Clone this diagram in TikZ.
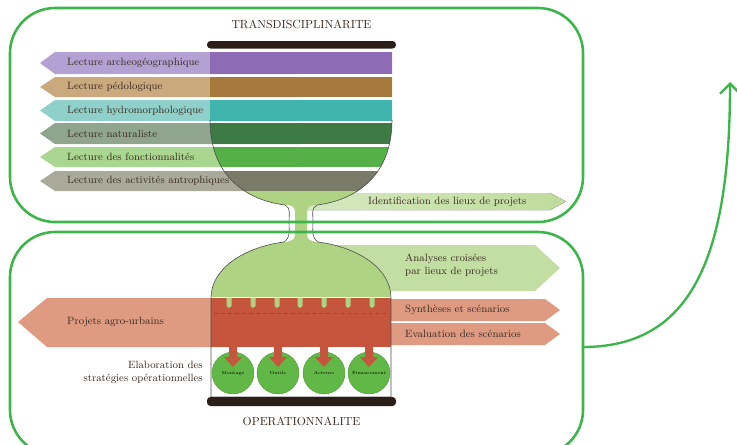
\documentclass[tikz,border=0pt]{standalone}
\usepackage{tikz}
\usetikzlibrary{arrows.meta}

\definecolor{boxgreen}{HTML}{3CB54A}
\definecolor{barbrown}{HTML}{2B1D17}
\definecolor{labeltext}{HTML}{3A2A20}
\definecolor{purpleL}{HTML}{B4A1D3}\definecolor{purpleD}{HTML}{8D6BB5}
\definecolor{brownL}{HTML}{CBA97F}\definecolor{brownD}{HTML}{A57A3C}
\definecolor{tealL}{HTML}{8FD0CB}\definecolor{tealD}{HTML}{3FB5AE}
\definecolor{forestL}{HTML}{8FA58E}\definecolor{forestD}{HTML}{3D7A45}
\definecolor{grassL}{HTML}{A9D690}\definecolor{grassD}{HTML}{55B048}
\definecolor{greyL}{HTML}{AAAA9A}\definecolor{greyD}{HTML}{7A7A68}
\definecolor{paleGreen}{HTML}{AED383}
\definecolor{salmon}{HTML}{DE9B82}
\definecolor{brick}{HTML}{C6553E}
\definecolor{ballgreen}{HTML}{62B846}

\tikzset{
  frame/.style={draw=boxgreen, line width=2.2pt, rounded corners=1.35cm},
  lbl/.style={font=\small, text=labeltext, anchor=west, inner sep=0pt},
  title/.style={font=\normalsize, text=labeltext, inner sep=0pt},
  cupline/.style={draw=black!70, line width=0.5pt},
  ball/.style={circle, fill=ballgreen, draw=ballgreen!80!black, line width=0.3pt,
    minimum size=1.26cm, inner sep=0pt, font=\fontsize{3.8}{4}\selectfont},
  drop/.style={fill=brick}
}

% left pointing band: y top, y bottom, light colour
\newcommand\lecture[3]{%
  \fill[#3] (40,{(#1+#2)/2}) -- (55,#1) -- (300,#1) -- (300,#2) -- (55,#2) -- cycle;}
% right pointing band: y top, y bottom, x of tip, colour
\newcommand\sortie[4]{%
  \fill[#4] (300,#1) -- ({#3-15},#1) -- (#3,{(#1+#2)/2}) -- ({#3-15},#2) -- (300,#2) -- cycle;}

\begin{document}
\begin{tikzpicture}[x=0.03cm, y=-0.03cm]
  %%%%% START %%%%%
  \useasboundingbox (0,0) rectangle (737,444);
  \clip (0,0) rectangle (737,444);

  % bands behind the cup
  \lecture{52}{74}{purpleL}
  \lecture{77}{97}{brownL}
  \lecture{100}{121}{tealL}
  \lecture{123}{144}{forestL}
  \lecture{147}{167}{grassL}
  \lecture{171}{191}{greyL}
  \fill[left color=paleGreen!50, right color=paleGreen!80] (300,193) -- (550,193) -- (566,201.5) -- (550,210) -- (300,210) -- cycle;
  \fill[paleGreen!75] (300,245) -- (535,245) -- (560,268) -- (535,291) -- (300,291) -- cycle;
  \fill[salmon] (18,322) -- (47,298) -- (300,298) -- (300,347) -- (47,347) -- cycle;
  \sortie{299}{321}{560}{salmon}
  \sortie{323}{345}{560}{salmon}

  % upper bowl
  \begin{scope}
    \clip (210,49) -- (210,120) .. controls (210,175) and (245,200) .. (285,205)
      -- (317,205) .. controls (357,200) and (392,175) .. (392,120) -- (392,49) -- cycle;
    \fill[paleGreen] (200,191) rectangle (400,210);
    \fill[purpleD] (200,52) rectangle (400,74);
    \fill[brownD] (200,77) rectangle (400,97);
    \fill[tealD] (200,100) rectangle (400,121);
    \fill[forestD] (200,123) rectangle (400,144);
    \fill[grassD] (200,147) rectangle (400,167);
    \fill[greyD] (200,171) rectangle (400,191);
  \end{scope}
  \draw[cupline] (210,120) .. controls (210,175) and (245,200) .. (285,205);
  \draw[cupline] (392,120) .. controls (392,175) and (357,200) .. (317,205);

  % neck
  \fill[paleGreen] (283,204) .. controls (294,206) .. (295,212) -- (295,235)
    .. controls (294,240) .. (283,243) -- (319,243) .. controls (308,240) .. (307,235)
    -- (307,212) .. controls (308,206) .. (319,204) -- cycle;
  \draw[cupline] (285,205) .. controls (291,208) and (289,214) .. (289,222)
    .. controls (289,231) and (291,237) .. (284,242);
  \draw[cupline] (317,205) .. controls (311,208) and (313,214) .. (313,222)
    .. controls (313,231) and (311,237) .. (318,242);

  % lower dome
  \fill[paleGreen] (284,242) .. controls (245,247) and (211,268) .. (211,298)
    -- (391,298) .. controls (391,268) and (357,247) .. (318,242) -- cycle;
  \fill[brick] (211,298) rectangle (391,347);
  \draw[white!85!yellow, line width=0.6pt] (211,297.5) -- (391,297.5);
  \draw[brick!80!black, dashed, line width=0.4pt] (214,313) -- (388,313);
  \foreach \tx in {229,253,277,300,324,348,372}
    \fill[paleGreen] (\tx-2.5,298) rectangle (\tx+2.5,306) (\tx-2.5,306) -- (\tx+2.5,306) -- (\tx,308) -- cycle;
  \draw[cupline] (284,242) .. controls (245,247) and (211,268) .. (211,298) -- (211,397) -- (391,397)
    -- (391,298) .. controls (391,268) and (357,247) .. (318,242);

  % bars and titles
  \fill[barbrown, rounded corners=3pt] (207,41) rectangle (396,48.5);
  \fill[barbrown, rounded corners=3pt] (207,397) rectangle (396,406);
  \node[title] (trans) at (301.5,24) {TRANSDISCIPLINARITE};
  \node[title] (oper) at (301.5,421) {OPERATIONNALITE};

  % labels
  \node[lbl] (lec1) at (67,63) {Lecture archeogéographique};
  \node[lbl] (lec2) at (67,87) {Lecture pédologique};
  \node[lbl] (lec3) at (67,110.5) {Lecture hydromorphologique};
  \node[lbl] (lec4) at (67,133.5) {Lecture naturaliste};
  \node[lbl] (lec5) at (67,157) {Lecture des fonctionnalités};
  \node[lbl] (lec6) at (67,181) {Lecture des activités antrophiques};
  \node[lbl] (ident) at (368,201.5) {Identification des lieux de projets};
  \node[lbl, align=left] (analyses) at (405,265) {Analyses croisées\\par lieux de projets};
  \node[lbl] (projets) at (67,322) {Projets agro-urbains};
  \node[lbl] (synth) at (405,310) {Synthèses et scénarios};
  \node[lbl] (evalu) at (405,334) {Evaluation des scénarios};
  \node[lbl, anchor=east, align=right] (elab) at (203,372) {Elaboration des\\stratégies opérationnelles};

  % strategies
  \node[ball] (b1) at (233,373) {Montage};
  \node[ball] (b2) at (278,373) {Outils};
  \node[ball] (b3) at (324,373) {Acteurs};
  \node[ball] (b4) at (369,373) {Financement};
  \foreach \b in {b1,b2,b3,b4}
    \fill[drop] ([shift={(-4,-27)}]\b.center) -- ([shift={(4,-27)}]\b.center)
      -- ([shift={(4,-16)}]\b.center) -- ([shift={(9,-16)}]\b.center)
      -- ([shift={(0,-6)}]\b.center) -- ([shift={(-9,-16)}]\b.center)
      -- ([shift={(-4,-16)}]\b.center) -- cycle;

  % frames and arrow
  \draw[frame] (10,8) rectangle (583,222);
  \draw[frame] (10,232) rectangle (583,455);
  \coordinate (from) at (583,347);
  \coordinate (to) at (730,82);
  \draw[draw=boxgreen, line width=2pt, -{Straight Barb[length=3mm, width=6mm]}]
    (from) .. controls (690,347) and (730,260) .. (to);
  %%%%% END %%%%%
\end{tikzpicture}
\end{document}
